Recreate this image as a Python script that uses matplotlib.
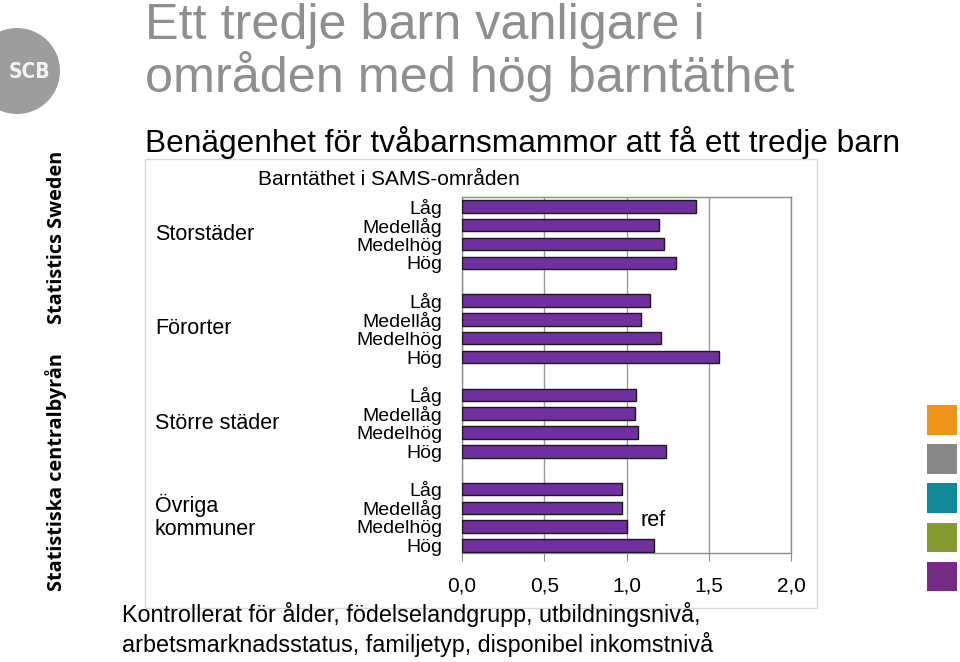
import matplotlib
matplotlib.use("Agg")
import matplotlib.pyplot as plt
from matplotlib.patches import Rectangle, Ellipse
from matplotlib.transforms import blended_transform_factory

plt.rcParams['font.family'] = ['Liberation Sans', 'DejaVu Sans']

# data (odds ratio, ref = Övriga kommuner / Medelhög)
groups = ["Storstäder", "Förorter", "Större städer", "Övriga\nkommuner"]
levels = ["Låg", "Medellåg", "Medelhög", "Hög"]
storstader = [1.42, 1.20, 1.23, 1.30]
fororter = [1.14, 1.09, 1.21, 1.56]
storre_stader = [1.06, 1.05, 1.07, 1.24]
ovriga = [0.97, 0.97, 1.00, 1.17]
xticks = [0.0, 0.5, 1.0, 1.5, 2.0]
xtick_labels = ["0,0", "0,5", "1,0", "1,5", "2,0"]

series = [storstader, fororter, storre_stader, ovriga]

W, H = 960, 662
fig = plt.figure(figsize=(W / 100, H / 100), dpi=100)
fig.patch.set_facecolor("white")

def fx(px):
    return px / W

def fy(py):
    return 1 - py / H

# white chart box with light border (behind the axes)
fig.patches.append(Rectangle((fx(145), fy(608)), fx(817) - fx(145), fy(159) - fy(608),
                             transform=fig.transFigure, facecolor="white",
                             edgecolor="#d9d9d9", lw=1, zorder=-5))

ax = fig.add_axes([fx(462), fy(553), fx(791) - fx(462), fy(197) - fy(553)])
ax.set_zorder(2)

ypos, vals, labels = [], [], []
for gi, s in enumerate(series):
    for li, v in enumerate(s):
        ypos.append(gi * 5 + li)
        vals.append(v)
        labels.append(levels[li])

ax.barh(ypos, vals, height=0.66, color="#7030A0", edgecolor="#1a1a1a", lw=1, zorder=3)
ax.set_ylim(18.4, -0.5)
ax.set_xlim(0, 2.0)
ax.set_yticks(ypos)
ax.set_yticklabels(labels, fontsize=14)
ax.tick_params(axis="y", length=0, pad=14)
ax.set_xticks(xticks)
ax.set_xticklabels(xtick_labels, fontsize=15)
ax.tick_params(axis="x", length=6, color="#8c8c8c", pad=11)
ax.grid(axis="x", color="#9a9a9a", lw=1, zorder=0)
for sp in ax.spines.values():
    sp.set_color("#8c8c8c")
    sp.set_linewidth(1)

# group labels on the left
tr = blended_transform_factory(fig.transFigure, ax.transData)
for gi, g in enumerate(groups):
    ax.text(fx(155), gi * 5 + 1.5, g, transform=tr, ha="left", va="center",
            fontsize=15.5, linespacing=1.1)

ax.text(1.085, 16.7, "ref", fontsize=15.5, ha="left", va="center")

# titles
fig.text(fx(145), fy(39), "Ett tredje barn vanligare i", fontsize=36.3,
         color="#8f8f8f", va="baseline")
fig.text(fx(145), fy(92), "områden med hög barntäthet", fontsize=36.3,
         color="#8f8f8f", va="baseline")
fig.text(fx(145), fy(152), "Benägenhet för tvåbarnsmammor att få ett tredje barn",
         fontsize=22.8, color="black", va="baseline")
fig.text(fx(258), fy(185), "Barntäthet i SAMS-områden", fontsize=15, va="baseline")

fig.text(fx(122), fy(622), "Kontrollerat för ålder, födelselandgrupp, utbildningsnivå,",
         fontsize=16.8, va="baseline")
fig.text(fx(122), fy(652), "arbetsmarknadsstatus, familjetyp, disponibel inkomstnivå",
         fontsize=16.8, va="baseline")

# SCB logo and side text
fig.patches.append(Ellipse((fx(17), fy(71)), 2 * 43 / W, 2 * 43 / H,
                           transform=fig.transFigure, facecolor="#9d9d9d",
                           edgecolor="none"))
fig.text(fx(29), fy(72), "SCB", fontsize=15, fontweight="bold", color="#f2f2f2",
         ha="center", va="center", fontstretch="condensed",
         family=["Liberation Sans Narrow", "DejaVu Sans"])
fig.text(fx(62), fy(237), "Statistics Sweden", rotation=90, rotation_mode="anchor",
         ha="center", va="baseline", fontsize=14.3, fontweight="bold",
         family=["Open Sans", "DejaVu Sans"])
fig.text(fx(62), fy(472), "Statistiska centralbyrån", rotation=90, rotation_mode="anchor",
         ha="center", va="baseline", fontsize=14.3, fontweight="bold",
         family=["Open Sans", "DejaVu Sans"])

# colour squares on the right edge
swatches = ["#EE9416", "#878787", "#108A98", "#849A31", "#752A86"]
for i, c in enumerate(swatches):
    top = 405 + i * 39.2
    fig.patches.append(Rectangle((fx(927), fy(top + 29.5)), fx(29.5), 29.5 / H,
                                 transform=fig.transFigure, facecolor=c,
                                 edgecolor="none"))

fig.savefig("out.png", dpi=100)
